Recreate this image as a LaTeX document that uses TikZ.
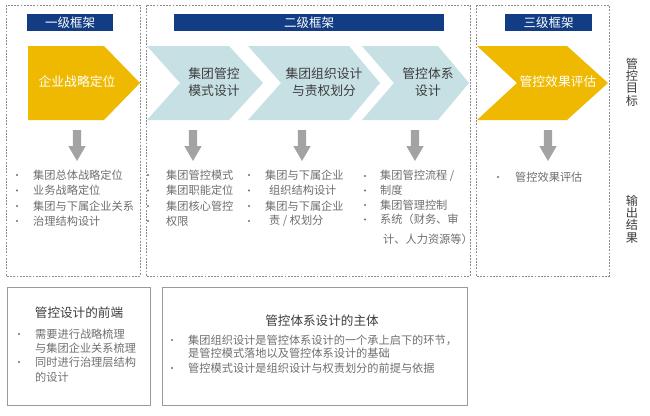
\documentclass[tikz,border=0pt]{standalone}
\usepackage{fontspec}
\setmainfont{Noto Sans CJK SC}
\definecolor{navy}{HTML}{123C84}
\definecolor{gold}{HTML}{EEB900}
\definecolor{ltblue}{HTML}{C7E0E4}
\definecolor{agray}{HTML}{A3A3A3}
\definecolor{tgray}{HTML}{6E6E6E}
\definecolor{dgray}{HTML}{3C3C3C}
\definecolor{dashgray}{HTML}{8A8A8A}
\definecolor{boxgray}{HTML}{9A9A9A}
\begin{document}
\begin{tikzpicture}[x=1pt,y=-1pt,
 frame/.style={draw=dashgray,line width=0.6pt,dash pattern=on 1.8pt off 1.4pt},
 header/.style={fill=navy,text=white,inner sep=0,minimum height=17pt,font=\fontsize{12.5}{13}\selectfont},
 chtext/.style={align=center,font=\fontsize{12.8}{17}\selectfont,text=dgray,inner sep=0},
 chwhite/.style={chtext,text=white},
 item/.style={anchor=west,inner sep=0,text=tgray,font=\fontsize{11.2}{12}\selectfont},
 bul/.style={circle,fill=tgray,inner sep=0,minimum size=2.2pt},
 sumbox/.style={draw=boxgray,line width=0.8pt},
 ttl/.style={text=dgray,font=\fontsize{12.6}{13}\selectfont,inner sep=0},
 vlabel/.style={align=center,text=dgray,font=\fontsize{12.2}{12.4}\selectfont,inner sep=0},
 downarrow/.pic={\fill[agray] (-4.2,0) -- (4.2,0) -- (4.2,16) -- (8.7,16) -- (0,31) -- (-8.7,16) -- (-4.2,16) -- cycle;}
]
\useasboundingbox (0,0) rectangle (650,415);
% dashed frames
\draw[frame] (6,5) rectangle (140,276);
\draw[frame] (146,5) rectangle (470,276);
\draw[frame] (476,5) rectangle (609,276);
% headers
\node[header,minimum width=86pt] (h1) at (70,22.5) {一级框架};
\node[header,minimum width=270pt] (h2) at (309,22.5) {二级框架};
\node[header,minimum width=87pt] (h3) at (548.5,22.5) {三级框架};
% chevrons
\fill[gold] (28,46) -- (104,46) -- (140,83) -- (104,120) -- (28,120) -- cycle;
\fill[ltblue] (147,46) -- (229,46) -- (263,83) -- (229,120) -- (147,120) -- (180,83) -- cycle;
\fill[ltblue] (248,46) -- (349,46) -- (380,83) -- (349,120) -- (248,120) -- (281,83) -- cycle;
\fill[ltblue] (362,46) -- (438,46) -- (469,83) -- (438,120) -- (362,120) -- (394,83) -- cycle;
\fill[gold] (477,46) -- (567,46) -- (608,83) -- (567,120) -- (477,120) -- (517,83) -- cycle;
\node[chwhite] (c1) at (77,82) {企业战略定位};
\node[chtext] (c2) at (214,82) {集团管控\\模式设计};
\node[chtext] (c3) at (324,82) {集团组织设计\\与责权划分};
\node[chtext] (c4) at (428,82) {管控体系\\设计};
\node[chwhite] (c5) at (558,82) {管控效果评估};
% arrows
\pic at (77,130) {downarrow};
\pic at (193,130) {downarrow};
\pic at (302,130) {downarrow};
\pic at (415,130) {downarrow};
\pic at (548,130) {downarrow};
% right labels
\node[vlabel] (v1) at (632,82) {管\\控\\目\\标};
\node[vlabel] (v2) at (632,219) {输\\出\\结\\果};
% box1 list
\foreach \y [count=\i] in {175,190.5,206,221} \node[bul] (ba\i) at (17,\y) {};
\node[item] (a1) at (33,175) {集团总体战略定位};
\node[item] (a2) at (33,190.5) {业务战略定位};
\node[item] (a3) at (33,206) {集团与下属企业关系};
\node[item] (a4) at (33,221) {治理结构设计};
% box2 col1
\foreach \y [count=\i] in {175,190.5,206,221} \node[bul] (bb\i) at (148,\y) {};
\node[item] (b1) at (166,175) {集团管控模式};
\node[item] (b2) at (166,190.5) {集团职能定位};
\node[item] (b3) at (166,206) {集团核心管控};
\node[item] (b4) at (166,221) {权限};
% box2 col2
\foreach \y [count=\i] in {175,190.5,206,221} \node[bul] (bc\i) at (249,\y) {};
\node[item] (d1) at (265,175) {集团与下属企业};
\node[item] (d2) at (269,190.5) {组织结构设计};
\node[item] (d3) at (265,206) {集团与下属企业};
\node[item] (d4) at (269,221) {责 / 权划分};
% box2 col3
\foreach \y [count=\i] in {176,190.5,205,219.5} \node[bul] (bd\i) at (365,\y) {};
\node[item] (e1) at (380,176) {集团管控流程 /};
\node[item] (e2) at (380,190.5) {制度};
\node[item] (e3) at (380,205) {集团管理控制};
\node[item] (e4) at (380,219.5) {系统（财务、审};
\node[item] (e5) at (383,239) {计、人力资源等）};
% box3
\node[bul] (bf1) at (498,177) {};
\node[item] (f1) at (515,177) {管控效果评估};
% bottom boxes
\draw[sumbox] (7,287) rectangle (150,405);
\draw[sumbox] (162,287) rectangle (467,405);
\node[ttl] (t1) at (79,313) {管控设计的前端};
\node[bul] (bg1) at (19,334) {};
\node[bul] (bg2) at (19,362) {};
\node[item] (g1) at (35,334) {需要进行战略梳理};
\node[item] (g2) at (35,348) {与集团企业关系梳理};
\node[item] (g3) at (35,362) {同时进行治理层结构};
\node[item] (g4) at (35,377) {的设计};
\node[ttl] (t2) at (322,321) {管控体系设计的主体};
\node[bul] (bh1) at (172,340) {};
\node[bul] (bh2) at (172,368) {};
\node[item] (k1) at (188,340) {集团组织设计是管控体系设计的一个承上启下的环节，};
\node[item] (k2) at (188,353.5) {是管控模式落地以及管控体系设计的基础};
\node[item] (k3) at (188,368) {管控模式设计是组织设计与权责划分的前提与依据};
\end{tikzpicture}
\end{document}
